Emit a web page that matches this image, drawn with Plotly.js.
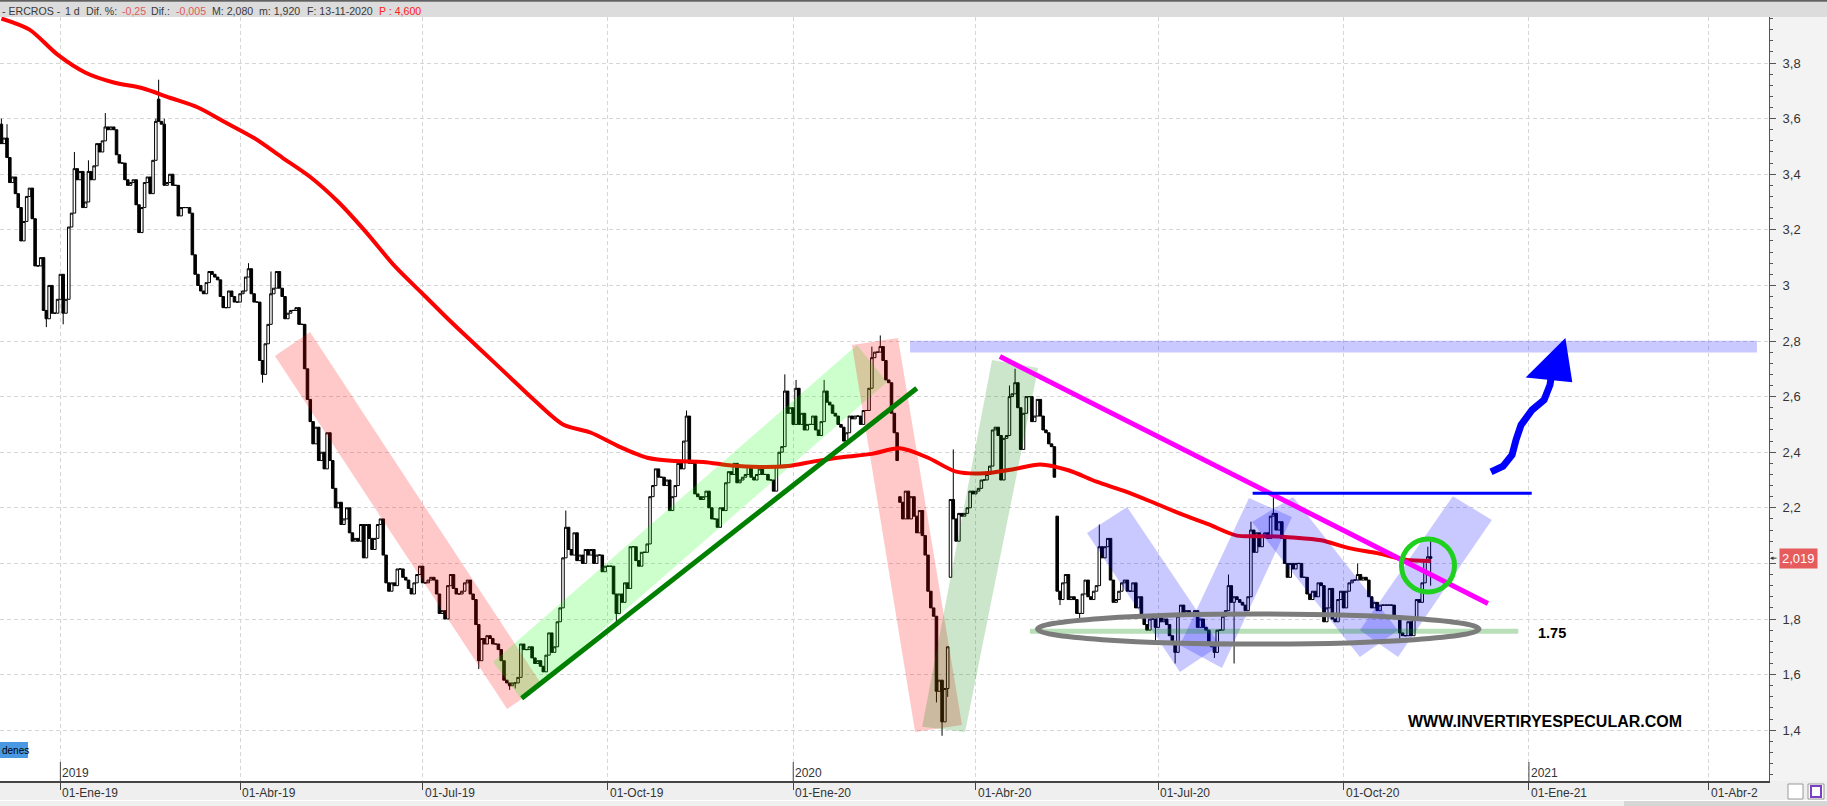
<!DOCTYPE html>
<html><head><meta charset="utf-8">
<script src="https://cdn.plot.ly/plotly-3.0.1.min.js"></script>
<style>html,body{margin:0;padding:0;background:#fff;overflow:hidden}#chart{width:1827px;height:806px}</style>
</head><body><div id="chart"></div>
<script>
// ---------- DATA ----------
const firstSession = '2018-12-03';
const closes = [
3.51,3.53,3.46,3.37,3.39,3.33,3.28,3.16,3.23,3.32,
3.35,3.24,3.07,3.07,3.10,2.91,2.88,3.00,2.90,2.90,
2.95,3.04,2.90,2.95,3.21,3.26,3.42,3.38,3.41,3.28,
3.30,3.41,3.38,3.43,3.51,3.48,3.52,3.57,3.56,3.57,
3.56,3.47,3.44,3.44,3.38,3.36,3.37,3.38,3.29,3.19,
3.28,3.37,3.39,3.33,3.45,3.59,3.59,3.58,3.36,3.37,
3.40,3.36,3.36,3.25,3.28,3.28,3.28,3.26,3.11,3.04,
3.00,2.98,2.97,3.01,3.05,3.04,3.03,3.02,2.96,2.92,
2.92,2.98,2.96,2.94,2.94,2.97,2.98,3.03,3.06,2.97,
2.94,2.94,2.73,2.68,2.79,2.86,2.97,2.99,3.05,2.99,
2.96,2.88,2.90,2.91,2.91,2.92,2.86,2.86,2.70,2.59,
2.51,2.43,2.49,2.37,2.40,2.34,2.47,2.37,2.27,2.20,
2.22,2.14,2.16,2.20,2.11,2.08,2.09,2.08,2.14,2.02,
2.14,2.09,2.05,2.09,2.14,2.16,2.03,1.93,1.90,1.93,
1.92,1.98,1.98,1.95,1.94,1.91,1.89,1.93,1.96,1.99,
1.93,1.93,1.94,1.95,1.94,1.89,1.82,1.83,1.80,1.92,
1.96,1.91,1.89,1.89,1.90,1.93,1.94,1.89,1.87,1.78,
1.65,1.73,1.71,1.74,1.73,1.71,1.71,1.69,1.65,1.58,
1.57,1.56,1.57,1.57,1.59,1.71,1.69,1.69,1.70,1.66,
1.64,1.65,1.63,1.61,1.67,1.75,1.68,1.70,1.79,1.84,
2.02,2.13,2.05,2.03,2.11,2.01,2.03,2.00,2.05,2.03,
2.05,2.00,2.03,2.03,1.97,1.99,1.99,1.99,1.89,1.82,
1.89,1.86,1.93,1.91,2.06,2.06,2.01,1.99,2.04,2.04,
2.07,2.24,2.28,2.34,2.31,2.31,2.28,2.30,2.19,2.24,
2.28,2.36,2.34,2.44,2.53,2.36,2.36,2.25,2.24,2.23,
2.24,2.26,2.20,2.16,2.16,2.13,2.20,2.19,2.29,2.33,
2.32,2.36,2.29,2.30,2.31,2.32,2.35,2.31,2.30,2.32,
2.34,2.32,2.32,2.30,2.30,2.26,2.35,2.40,2.42,2.62,
2.54,2.56,2.50,2.63,2.50,2.54,2.48,2.50,2.50,2.53,
2.48,2.46,2.51,2.62,2.58,2.57,2.54,2.53,2.50,2.49,
2.44,2.47,2.53,2.52,2.53,2.53,2.50,2.55,2.55,2.63,
2.74,2.76,2.76,2.78,2.73,2.66,2.65,2.54,2.47,2.37,
2.22,2.16,2.26,2.16,2.24,2.17,2.11,2.19,2.10,2.03,
1.90,1.84,1.81,1.54,1.58,1.43,1.55,1.70,2.23,2.16,
2.08,2.18,2.17,2.18,2.20,2.26,2.25,2.26,2.27,2.30,
2.30,2.32,2.35,2.48,2.49,2.46,2.30,2.45,2.46,2.60,
2.61,2.65,2.56,2.41,2.54,2.60,2.60,2.51,2.53,2.59,
2.53,2.48,2.47,2.43,2.42,2.31,1.90,1.87,1.93,1.96,
1.87,1.88,1.87,1.82,1.82,1.89,1.94,1.88,1.87,1.90,
1.92,2.06,2.02,2.06,2.09,1.94,1.86,1.87,1.90,1.93,
1.94,1.90,1.90,1.93,1.84,1.88,1.81,1.78,1.76,1.80,
1.80,1.77,1.81,1.79,1.80,1.78,1.74,1.71,1.68,1.81,
1.85,1.81,1.83,1.82,1.81,1.83,1.77,1.80,1.77,1.76,
1.71,1.70,1.68,1.76,1.76,1.81,1.83,1.92,1.86,1.88,
1.87,1.86,1.85,1.83,1.88,2.12,2.04,2.11,2.06,2.10,
2.11,2.09,2.17,2.18,2.12,2.15,2.09,2.00,1.95,2.00,
1.98,2.00,2.00,1.95,1.95,1.89,1.87,1.90,1.88,1.93,
1.92,1.79,1.84,1.91,1.80,1.79,1.87,1.90,1.84,1.90,
1.93,1.94,1.94,1.96,1.94,1.95,1.94,1.88,1.84,1.86,
1.83,1.85,1.85,1.85,1.85,1.85,1.81,1.81,1.75,1.74,
1.74,1.79,1.74,1.80,1.87,1.86,1.93,2.01,2.024,2.019
];
// sessions whose open is not the previous close (visible gaps)
const gapOpens = {0:3.58, 56:3.67, 320:2.24, 338:1.95, 376:2.17};
// visible wick extremes
const wickHighs = {0:3.60,2:3.58,26:3.48,31:3.45,37:3.62,55:3.60,56:3.74,58:3.60,88:3.08,96:3.05,108:2.74,
  201:2.19,244:2.55,279:2.68,283:2.66,293:2.66,310:2.78,313:2.82,319:2.40,339:2.41,359:2.64,361:2.70,
  391:2.14,437:1.96,445:2.15,453:2.25,483:2.00,508:2.06,509:2.08};
const wickLows = {16:2.85,22:2.86,93:2.65,170:1.62,181:1.545,183:1.55,219:1.79,333:1.50,335:1.38,337:1.52,
  377:1.85,384:1.79,411:1.72,418:1.64,432:1.66,439:1.64,498:1.72,509:1.92};
// 200-session moving average, sampled every 10 sessions (last = final session)
const maEvery = 10;
const maValues = [3.96,3.92,3.83,3.765,3.73,3.71,3.675,3.64,3.585,3.53,3.46,3.39,3.30,3.19,3.07,2.97,2.87,2.775,
  2.68,2.585,2.50,2.47,2.42,2.38,2.368,2.365,2.352,2.347,2.35,2.368,2.383,2.394,2.414,2.38,2.33,2.324,2.338,
  2.356,2.335,2.294,2.26,2.22,2.178,2.14,2.10,2.098,2.093,2.083,2.055,2.037,2.013,2.009];
const tickDates = ['2019-01-01','2019-04-01','2019-07-01','2019-10-01','2020-01-01','2020-04-01','2020-07-01','2020-10-01','2021-01-01','2021-04-01'];
const tickLabels = ['01-Ene-19','01-Abr-19','01-Jul-19','01-Oct-19','01-Ene-20','01-Abr-20','01-Jul-20','01-Oct-20','01-Ene-21','01-Abr-2'];
const yearDates = ['2019-01-01','2020-01-01','2021-01-01'];
const yearLabels = ['2019','2020','2021'];
const priceTicks = [1.4,1.6,1.8,2.0,2.2,2.4,2.6,2.8,3.0,3.2,3.4,3.6,3.8];
const priceTickText = ['1,4','1,6','1,8','','2,2','2,4','2,6','2,8','3','3,2','3,4','3,6','3,8'];
const lastPrice = 2.019;
const supportLevel = 1.75;

// ---------- sessions (weekdays) ----------
const sessions = [];
(function(){ const p = firstSession.split('-').map(Number); const d = new Date(Date.UTC(p[0],p[1]-1,p[2]));
  while (sessions.length < 640) { const w = d.getUTCDay(); if (w !== 0 && w !== 6) sessions.push(d.toISOString().slice(0,10)); d.setUTCDate(d.getUTCDate()+1); } })();
const idxOf = s => sessions.findIndex(v => v >= s);

const N = closes.length;
const xs = [], op = [], hi = [], lo = [];
for (let i = 0; i < N; i++) {
  const o = (i in gapOpens) ? gapOpens[i] : closes[i-1];
  const c = closes[i];
  xs.push(i); op.push(o);
  hi.push(Math.max(o, c, (i in wickHighs) ? wickHighs[i] : -1));
  lo.push(Math.min(o, c, (i in wickLows) ? wickLows[i] : 99));
}
const maX = maValues.map((v, k) => Math.min(k * maEvery, N - 1));

const tickIdx = tickDates.map(idxOf);
const yearIdx = yearDates.map(idxOf);

// ---------- traces ----------
const traces = [
  { type:'candlestick', x: xs, open: op, high: hi, low: lo, close: closes, text: sessions.slice(0, N),
    increasing:{line:{color:'#000', width:1}, fillcolor:'#ffffff'},
    decreasing:{line:{color:'#000', width:1}, fillcolor:'#000000'},
    whiskerwidth: 0, showlegend:false, hoverinfo:'skip' },
  { type:'scatter', mode:'lines', x: maX, y: maValues, line:{color:'#ff0000', width:4, shape:'spline', smoothing:0.8},
    showlegend:false, hoverinfo:'skip' }
];

// ---------- drawings ----------
const W = 1827, PL = 1769, PT = 17, PB = 781, PH = PB - PT;
const py = Y => (PB - Y) / PH;      // pixel row -> paper y
const px = X => X / PL;             // pixel col -> paper x
const poly = (pts) => 'M ' + pts.map(p => p[0] + ',' + p[1]).join(' L ') + ' Z';
const band = (pts, fill) => ({type:'path', path: poly(pts), fillcolor: fill, line:{width:0}, layer:'above'});
const pink = 'rgba(255,0,0,0.21)', lgreen = 'rgba(0,255,0,0.2)', dgreen = 'rgba(0,128,0,0.2)', lblue = 'rgba(0,0,255,0.21)';

const shapes = [
  // panels
  {type:'rect', xref:'paper', yref:'paper', x0:1, x1:W/PL, y0:py(800), y1:1, fillcolor:'#f3f3f3', line:{width:0}, layer:'below'},
  {type:'rect', xref:'paper', yref:'paper', x0:0, x1:W/PL, y0:py(800), y1:0, fillcolor:'#efefef', line:{width:0}, layer:'below'},
  {type:'rect', xref:'paper', yref:'paper', x0:0, x1:W/PL, y0:py(806), y1:py(801), fillcolor:'#f0f0f0', line:{width:0}, layer:'below'},
  {type:'rect', xref:'paper', yref:'paper', x0:px(1624), x1:W/PL, y0:py(806), y1:py(801), fillcolor:'#d6d6d6', line:{width:0}, layer:'below'},
  {type:'rect', xref:'paper', yref:'paper', x0:0, x1:W/PL, y0:1, y1:py(1.7), fillcolor:'#dcdcdc', line:{width:0}},
  {type:'rect', xref:'paper', yref:'paper', x0:0, x1:W/PL, y0:py(1.7), y1:py(0), fillcolor:'#606060', line:{width:0}},
  // small icons bottom right
  {type:'rect', xref:'paper', yref:'paper', x0:px(1788), x1:px(1803), y0:py(799), y1:py(784), fillcolor:'#ffffff', line:{color:'#9a9a9a', width:1}},
  {type:'rect', xref:'paper', yref:'paper', x0:px(1808), x1:px(1824), y0:py(799), y1:py(784), fillcolor:'#ffffff', line:{color:'#9a9a9a', width:1}},
  {type:'rect', xref:'paper', yref:'paper', x0:px(1811), x1:px(1821), y0:py(797), y1:py(786), fillcolor:'#ffffff', line:{color:'#7a3fc4', width:2}},
  // "Órdenes" tab
  {type:'rect', xref:'paper', yref:'paper', x0:0, x1:px(28), y0:py(758), y1:py(742), fillcolor:'#4a98e2', line:{width:0}},
  // year marks
  ...yearIdx.map(i => ({type:'line', xref:'x', yref:'paper', x0:i, x1:i, y0:0, y1:py(762), line:{color:'#444', width:1}})),
  // trend bands
  band([[97.4,2.746],[109.9,2.832],[192.5,1.563],[180.1,1.476]], pink),
  band([[175.1,1.645],[185.4,1.509],[315.4,2.653],[304.7,2.786]], lgreen),
  band([[302.9,2.786],[319.3,2.811],[342.1,1.419],[325.4,1.394]], pink),
  band([[352.8,2.732],[369.2,2.703],[343.2,1.394],[327.9,1.412]], dgreen),
  {type:'rect', x0:323.6, x1:625.2, y0:2.759, y1:2.801, fillcolor:lblue, line:{width:0}},
  // W
  band([[386.6,2.109],[400.9,2.203],[434.0,1.706],[419.7,1.609]], lblue),
  band([[419.7,1.706],[434.7,1.624],[459.6,2.167],[444.3,2.235]], lblue),
  band([[445.4,2.149],[460.0,2.239],[497.4,1.760],[483.8,1.663]], lblue),
  band([[483.8,1.760],[497.4,1.663],[530.8,2.156],[516.9,2.242]], lblue),
  // lines
  {type:'line', x0:185.3, y0:1.515, x1:326.0, y1:2.630, line:{color:'#008000', width:5}},
  {type:'line', x0:355.6, y0:2.744, x1:529.4, y1:1.856, line:{color:'#ff00ff', width:5}},
  {type:'line', x0:445.6, y0:2.252, x1:545.0, y1:2.252, line:{color:'#0000ff', width:3}},
  {type:'line', x0:366.3, y0:supportLevel + 0.006, x1:540.2, y1:supportLevel + 0.006, line:{color:'rgba(0,140,0,0.28)', width:5}},
  {type:'circle', x0:369.0, x1:526.2, y0:1.710, y1:1.818, line:{color:'#7c7c7c', width:5}},
  {type:'circle', x0:498.6, x1:517.5, y0:1.897, y1:2.088, line:{color:'#1fd01f', width:5}},
  // hand drawn arrow
  {type:'path', path:'M 530.5,2.329 L 534.8,2.350 L 538.0,2.390 L 539.4,2.444 L 541.2,2.498 L 545.1,2.552 L 549.4,2.588 L 551.5,2.642 L 552.2,2.688',
   line:{color:'#0000ff', width:7}},
  {type:'path', path:'M 544.4,2.674 L 556.5,2.796 L 558.6,2.660 Z', fillcolor:'#0000ff', line:{color:'#0000ff', width:4}}
];

// ---------- texts ----------
const hf = {family:'Liberation Sans, Arial, sans-serif', size:10.6, color:'#3a3a3a'};
const header = [
  [0,'- ERCROS -','#3a3a3a'],[63,'1 d','#3a3a3a'],[84,'Dif. %:','#3a3a3a'],[120,'-0,25','#e05a5a'],
  [149,'Dif.:','#3a3a3a'],[174,'-0,005','#e05a5a'],[210,'M: 2,080','#3a3a3a'],[257,'m: 1,920','#3a3a3a'],
  [305,'F: 13-11-2020','#3a3a3a'],[377,'P : 4,600','#ff2020']
];
const tf = {family:'Liberation Sans, Arial, sans-serif', size:12, color:'#333'};
const annotations = [
  ...header.map(h => ({xref:'paper', yref:'paper', x:px(h[0]), y:py(10.5), text:h[1], showarrow:false,
    xanchor:'left', yanchor:'middle', font:Object.assign({}, hf, {color:h[2]})})),
  ...tickIdx.map((i, k) => ({xref:'x', yref:'paper', x:i, y:py(793), text:tickLabels[k], showarrow:false,
    xanchor:'left', yanchor:'middle', xshift:0, font:tf})),
  ...yearIdx.map((i, k) => ({xref:'x', yref:'paper', x:i, y:py(773), text:yearLabels[k], showarrow:false,
    xanchor:'left', yanchor:'middle', xshift:0, font:tf})),
  {xref:'paper', yref:'paper', x:0, y:py(750), text:'denes', showarrow:false, xanchor:'left', yanchor:'middle',
   font:{family:'Liberation Sans, Arial, sans-serif', size:10, color:'#000'}},
  {x:546.5, y:supportLevel, text:'<b>1.75</b>', showarrow:false, xanchor:'left', yanchor:'middle',
   font:{family:'Liberation Sans, Arial, sans-serif', size:14.5, color:'#000'}},
  {x:549.9, y:1.433, text:'<b>WWW.INVERTIRYESPECULAR.COM</b>', showarrow:false, xanchor:'center', yanchor:'middle',
   font:{family:'Liberation Sans, Arial, sans-serif', size:16, color:'#000'}},
  {xref:'paper', yref:'y', x:px(1779), y:lastPrice, text:'2,019', showarrow:false, xanchor:'left', yanchor:'middle',
   bgcolor:'#e65c5c', borderpad:2, font:{family:'Liberation Sans, Arial, sans-serif', size:13, color:'#fff'}},
  {xref:'paper', yref:'y', x:px(1770), y:lastPrice, text:'', showarrow:true, ax:8, ay:0, arrowhead:2, arrowsize:0.7,
   arrowwidth:1, arrowcolor:'#333'}
];

const layout = {
  width: W, height: 806, autosize:false,
  margin:{l:0, r:W-PL, t:PT, b:806-PB, pad:0},
  paper_bgcolor:'#ffffff', plot_bgcolor:'#ffffff',
  separators:',.', hovermode:false, showlegend:false,
  boxgap:0.05, boxgroupgap:0.05,
  xaxis:{type:'linear', range:[-0.5, 629.5], tickvals: tickIdx, showticklabels:false, ticks:'outside', ticklen:7,
    tickcolor:'#444', showgrid:true, gridcolor:'#d6d6d6', griddash:'4px,3px', zeroline:false,
    showline:true, linecolor:'#444', linewidth:1.5, rangeslider:{visible:false}, fixedrange:true},
  yaxis:{side:'right', range:[1.2173, 3.9655], tickmode:'array', tickvals: priceTicks, ticktext: priceTickText,
    ticks:'outside', ticklen:6, tickcolor:'#555',
    showline:true, linecolor:'#555', linewidth:1, showgrid:true, gridcolor:'#d6d6d6', griddash:'4px,3px',
    zeroline:false, ticklabelstandoff:4,
    tickfont:{family:'Liberation Sans, Arial, sans-serif', size:13, color:'#333'},
    minor:{tickmode:'linear', tick0:0, dtick:0.04, ticks:'outside', ticklen:3, tickcolor:'#555', showgrid:false}, fixedrange:true},
  shapes: shapes, annotations: annotations
};

Plotly.newPlot('chart', traces, layout, {staticPlot:true, displayModeBar:false});
</script>
</body></html>
